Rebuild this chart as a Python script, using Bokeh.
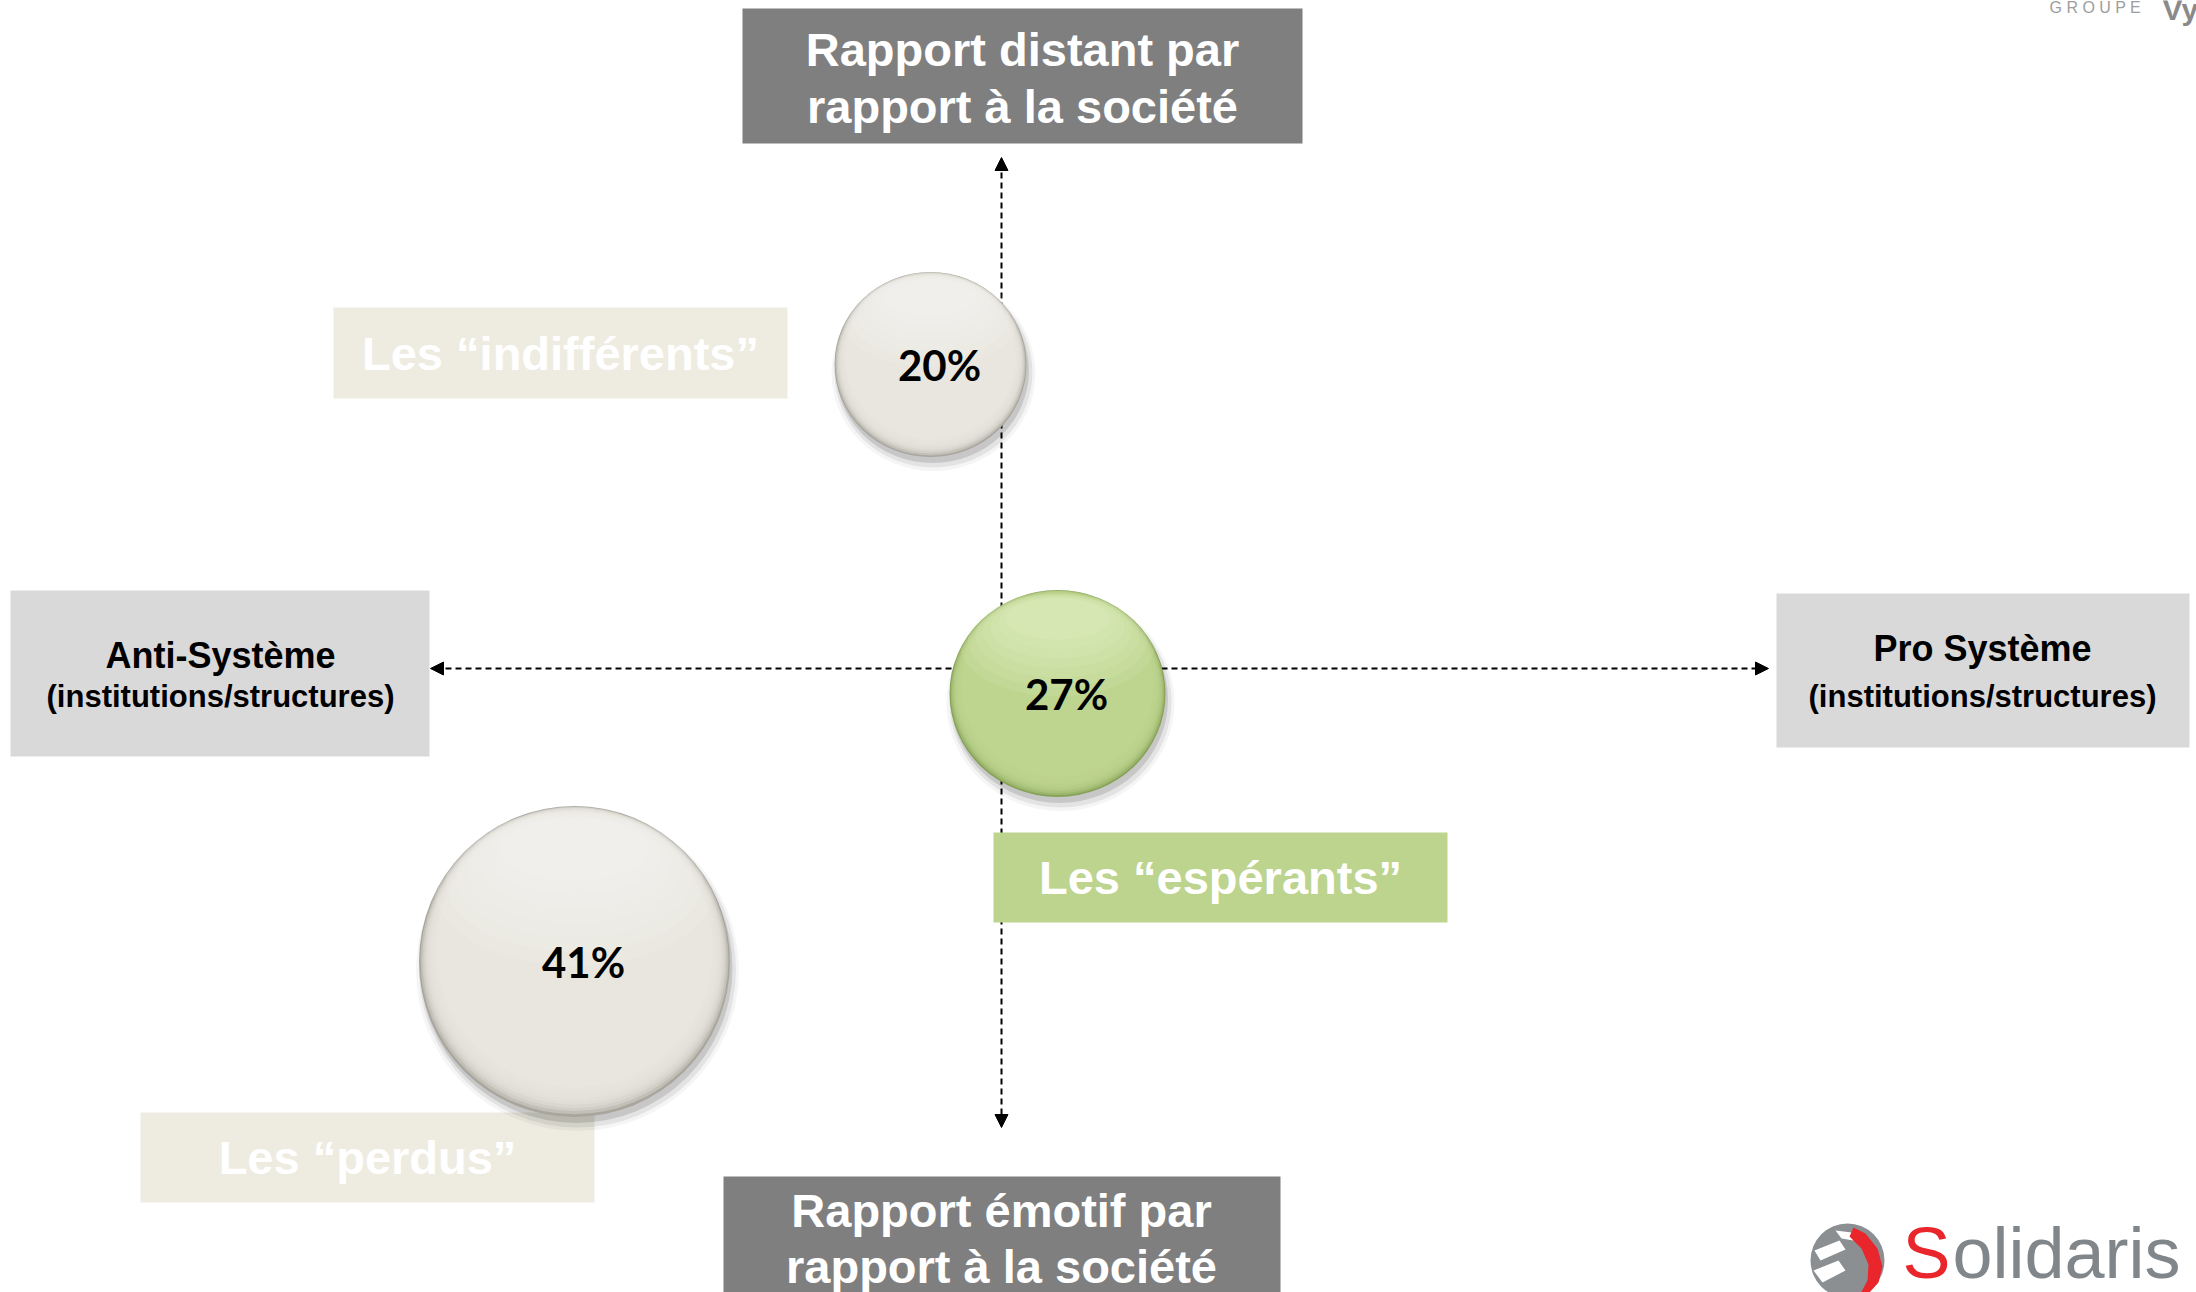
from bokeh.plotting import figure
from bokeh.models import ColumnDataSource, Range1d, Arrow, NormalHead
from bokeh.core.properties import value
from bokeh.embed import file_html
from bokeh.resources import INLINE

# ---------------- data ----------------
segment_labels = ["Les \u201cindiff\u00e9rents\u201d", "Les \u201cesp\u00e9rants\u201d", "Les \u201cperdus\u201d"]
segment_pct = [20, 27, 41]
segment_x = [-71, 56, -427]     # Anti-Système (-)  <->  Pro Système (+)
segment_y = [304, -25, -293]    # Rapport émotif (-) <-> Rapport distant (+)
axis_top = ["Rapport distant par", "rapport \u00e0 la soci\u00e9t\u00e9"]
axis_bottom = ["Rapport \u00e9motif par", "rapport \u00e0 la soci\u00e9t\u00e9"]
axis_left = ["Anti-Syst\u00e8me", "(institutions/structures)"]
axis_right = ["Pro Syst\u00e8me", "(institutions/structures)"]

# ---------------- layout ----------------
W, H = 2196, 1292
X0, X1 = -1001, 1195
Y0, Y1 = -624, 668
AX_UP, AX_DOWN, AX_LEFT, AX_RIGHT = 511, -459, -571, 767
bubble_w = [192, 216, 311]
bubble_h = [185, 207, 311]
themes = {
    "neutral": dict(edge="#a8a69d", body="#e8e6de", hl="#ffffff", box="#eeece1"),
    "green": dict(edge="#86a257", body="#bdd58f", hl="#f2fbdc", box="#bdd48f"),
}
bubble_theme = ["neutral", "green", "neutral"]
label_box = [(-668, -214, 361, 270), (-8, 446, -164, -254), (-861, -407, -444, -534)]

p = figure(width=W, height=H, x_range=Range1d(X0, X1), y_range=Range1d(Y0, Y1),
           output_backend="svg", toolbar_location=None, min_border=0)
p.axis.visible = False
p.grid.visible = False
p.outline_line_color = None
p.background_fill_color = "white"
p.border_fill_color = "white"

FONT = value("Liberation Sans")

# ---------------- axes (dashed arrows) ----------------
for xe, ye in [(0, AX_UP), (0, AX_DOWN), (AX_LEFT, 0), (AX_RIGHT, 0)]:
    p.add_layout(Arrow(x_start=0, y_start=0, x_end=xe, y_end=ye,
                       line_color="black", line_width=2, line_dash="6 4",
                       end=NormalHead(size=13, fill_color="black", line_color="black", line_width=1),
                       level="underlay"))

# ---------------- axis boxes ----------------
p.quad(left=[-259], right=[301], top=[660], bottom=[525], fill_color="#7f7f7f", line_color=None)
p.quad(left=[-278], right=[279], top=[-508], bottom=[-630], fill_color="#7f7f7f", line_color=None)
p.quad(left=[-991], right=[-572], top=[78], bottom=[-88], fill_color="#d9d9d9", line_color=None)
p.quad(left=[775], right=[1188], top=[75], bottom=[-79], fill_color="#d9d9d9", line_color=None)

p.text(x=[21, 21], y=[619, 562], text=axis_top, text_font=FONT, text_font_style="bold",
       text_font_size=value("47px"), text_color="white", text_align="center", text_baseline="middle")
p.text(x=[0, 0], y=[-542, -598], text=axis_bottom, text_font=FONT, text_font_style="bold",
       text_font_size=value("47px"), text_color="white", text_align="center", text_baseline="middle")
p.text(x=[-781], y=[13], text=axis_left[:1], text_font=FONT, text_font_style="bold",
       text_font_size=value("36px"), text_color="black", text_align="center", text_baseline="middle")
p.text(x=[-781], y=[-28], text=axis_left[1:], text_font=FONT, text_font_style="bold",
       text_font_size=value("31px"), text_color="black", text_align="center", text_baseline="middle")
p.text(x=[981], y=[20], text=axis_right[:1], text_font=FONT, text_font_style="bold",
       text_font_size=value("36px"), text_color="black", text_align="center", text_baseline="middle")
p.text(x=[981], y=[-28], text=axis_right[1:], text_font=FONT, text_font_style="bold",
       text_font_size=value("31px"), text_color="black", text_align="center", text_baseline="middle")

# ---------------- segment labels ----------------
lb = dict(left=[b[0] for b in label_box], right=[b[1] for b in label_box],
          top=[b[2] for b in label_box], bottom=[b[3] for b in label_box],
          color=[themes[t]["box"] for t in bubble_theme],
          tx=[(b[0] + b[1]) / 2 for b in label_box], ty=[(b[2] + b[3]) / 2 for b in label_box],
          text=segment_labels)
lsrc = ColumnDataSource(lb)
p.quad(left="left", right="right", top="top", bottom="bottom", fill_color="color",
       line_color=None, source=lsrc)
p.text(x="tx", y="ty", text="text", source=lsrc, text_font=FONT, text_font_style="bold",
       text_font_size=value("47px"), text_color="white", text_align="center", text_baseline="middle")

# ---------------- bubbles ----------------
L = dict(x=[], y=[], w=[], h=[], color=[], alpha=[])

def add(x, y, w, h, color, alpha):
    L["x"].append(x); L["y"].append(y); L["w"].append(w); L["h"].append(h)
    L["color"].append(color); L["alpha"].append(alpha)

for i in range(len(segment_pct)):
    cx, cy = segment_x[i], segment_y[i]
    w, h = bubble_w[i], bubble_h[i]
    th = themes[bubble_theme[i]]
    # soft shadow
    add(cx + 3, cy - 9, w + 12, h + 10, "#000000", 0.04)
    add(cx + 3, cy - 8, w + 6, h + 5, "#000000", 0.07)
    add(cx + 2, cy - 6, w + 1, h, "#000000", 0.12)
    # rim
    add(cx, cy, w, h, th["edge"], 1.0)
    # body with darker lower bevel
    for k in range(8):
        s = 0.99 - 0.012 * k
        d = 0.36 * (1 - s)
        add(cx, cy + d * h, s * w, s * h, th["body"], 0.4)
    s = 0.89
    add(cx, cy + 0.36 * (1 - s) * h, s * w, s * h, th["body"], 1.0)
    # top highlight
    for k in range(7):
        sw = 0.90 - 0.07 * k
        sh = 0.50 - 0.05 * k
        top = 0.485 - 0.004 * k
        add(cx, cy + (top - sh / 2) * h, sw * w, sh * h, th["hl"], 0.09)

bsrc = ColumnDataSource(L)
p.ellipse(x="x", y="y", width="w", height="h", fill_color="color", fill_alpha="alpha",
          line_color=None, source=bsrc)

psrc = ColumnDataSource(dict(x=segment_x, y=segment_y, t=["%d%%" % v for v in segment_pct]))
p.text(x="x", y="y", text="t", source=psrc, x_offset=9, text_font=value("Lato"),
       text_font_style="bold", text_font_size=value("42px"), text_color="black",
       text_align="center", text_baseline="middle")

# ---------------- logos ----------------
p.text(x=[1048], y=[661], text=["G R O U P E"], text_font=FONT, text_font_size=value("16px"),
       text_color="#9d9d9d", text_align="left", text_baseline="middle")
p.text(x=[1161], y=[659], text=["Vy"], text_font=FONT, text_font_style="bold",
       text_font_size=value("30px"), text_color="#8a8a8a", text_align="left", text_baseline="alphabetic")

gx, gy = 846, -592
p.circle(x=[gx], y=[gy], radius=37, fill_color="#8b8f92", line_color=None)
p.patches(xs=[[gx - 33, gx - 8, gx - 2, gx - 27], [gx - 34, gx - 9, gx - 2, gx - 25],
              [gx - 12, gx + 4, gx + 6, gx - 6]],
          ys=[[gy + 10, gy + 20, gy + 11, gy], [gy - 10, gy, gy - 10, gy - 22],
              [gy + 30, gy + 28, gy + 20, gy + 22]],
          fill_color="white", line_color=None)
p.patches(xs=[[gx + 6, gx + 18, gx + 30, gx + 35, gx + 31, gx + 22, gx + 12, gx + 20, gx + 21, gx + 14, gx + 2]],
          ys=[[gy + 33, gy + 27, gy + 12, gy - 6, gy - 22, gy - 32, gy - 35, gy - 20, gy - 4, gy + 12, gy + 24]],
          fill_color="#e8262b", line_color=None)
p.text(x=[901], y=[-590], text=["S"], text_font=FONT, text_font_size=value("72px"),
       text_color="#e8262b", text_align="left", text_baseline="middle", y_offset=-6)
p.text(x=[951], y=[-590], text=["olidaris"], text_font=FONT, text_font_size=value("72px"),
       text_color="#80868a", text_align="left", text_baseline="middle", y_offset=-6)

open("out.html", "w").write(file_html(p, INLINE))
